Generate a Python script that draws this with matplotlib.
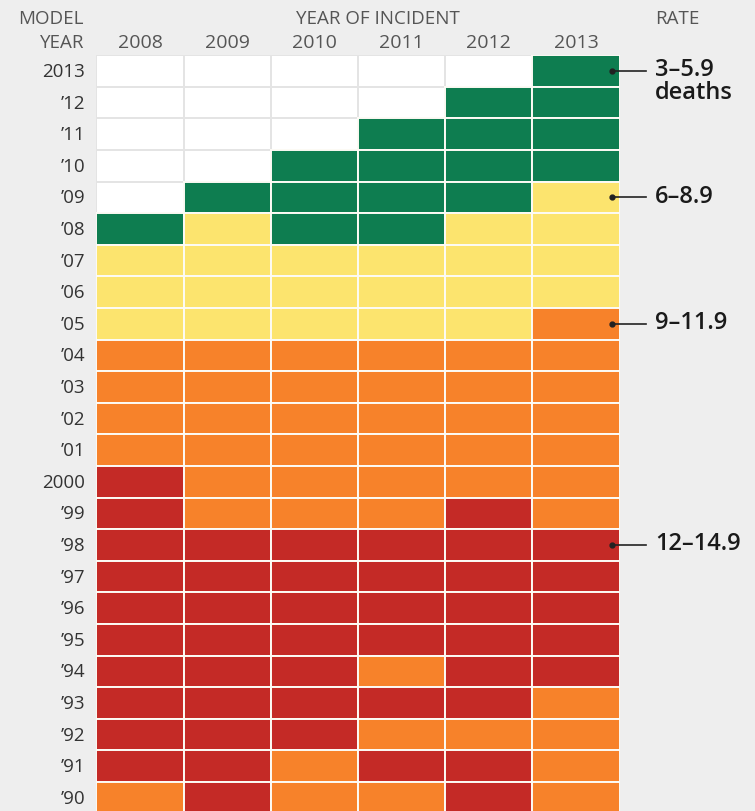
import matplotlib.pyplot as plt
from matplotlib.patches import Patch

# Rate category per cell: 0 = no data, 1 = 3-5.9, 2 = 6-8.9, 3 = 9-11.9, 4 = 12-14.9
model_years = ['2013', "\u201912", "\u201911", "\u201910", "\u201909", "\u201908", "\u201907",
               "\u201906", "\u201905", "\u201904", "\u201903", "\u201902", "\u201901", '2000',
               "\u201999", "\u201998", "\u201997", "\u201996", "\u201995", "\u201994", "\u201993",
               "\u201992", "\u201991", "\u201990"]
incident_years = ['2008', '2009', '2010', '2011', '2012', '2013']

rate_2008 = [0, 0, 0, 0, 0, 1, 2, 2, 2, 3, 3, 3, 3, 4, 4, 4, 4, 4, 4, 4, 4, 4, 4, 3]
rate_2009 = [0, 0, 0, 0, 1, 2, 2, 2, 2, 3, 3, 3, 3, 3, 3, 4, 4, 4, 4, 4, 4, 4, 4, 4]
rate_2010 = [0, 0, 0, 1, 1, 1, 2, 2, 2, 3, 3, 3, 3, 3, 3, 4, 4, 4, 4, 4, 4, 4, 3, 3]
rate_2011 = [0, 0, 1, 1, 1, 1, 2, 2, 2, 3, 3, 3, 3, 3, 3, 4, 4, 4, 4, 3, 4, 3, 4, 3]
rate_2012 = [0, 1, 1, 1, 1, 2, 2, 2, 2, 3, 3, 3, 3, 3, 4, 4, 4, 4, 4, 4, 4, 3, 4, 4]
rate_2013 = [1, 1, 1, 1, 2, 2, 2, 2, 3, 3, 3, 3, 3, 3, 3, 4, 4, 4, 4, 4, 3, 3, 3, 3]
columnas = [rate_2008, rate_2009, rate_2010, rate_2011, rate_2012, rate_2013]

rate_labels = ['3\u20135.9', '6\u20138.9', '9\u201311.9', '12\u201314.9']
label_rows = [0, 4, 8, 15]  # row whose last cell the leader points at

colores = ['#ffffff', '#0e7d50', '#fce46e', '#f7822a', '#c42a26']
fondo = '#eeeeee'
plt.rcParams['font.family'] = ['Open Sans', 'DejaVu Sans']

fig = plt.figure(figsize=(7.55, 8.12), dpi=100, facecolor=fondo)
# grid area in pixels: left 96.4, right 619.6, top 56.2, row pitch 31.6 (bottom row cut by figure edge)
W, H = 755.0, 812.0
left, right, top, pitch = 96.4, 619.6, 56.2, 31.6
ax = fig.add_axes([left / W, 0, (right - left) / W, (H - top) / H])
ax.set_xlim(-0.5, len(incident_years) - 0.5)
ax.set_ylim(-0.5 + (H - top) / pitch, -0.5)
ax.axis('off')

colw = (right - left) / len(incident_years)
def px_x(x):
    return (x - left) / colw - 0.5
def px_y(y):
    return (y - top) / pitch - 0.5

# white (empty) cells first so the coloured cells' white borders sit on top
for pasada in (0, 1):
    for j, col in enumerate(columnas):
        for i, v in enumerate(col):
            if (v == 0) != (pasada == 0):
                continue
            ax.bar(j, 1, bottom=i - 0.5, width=1, color=colores[v],
                   edgecolor='#e4e4e4' if v == 0 else '#fdfbf5', linewidth=1.4,
                   clip_on=True)

# row labels
for i, lab in enumerate(model_years):
    ax.text(px_x(85), i, lab, ha='right', va='center', fontsize=13.5, color='#333333')

# column labels and headers
for j, lab in enumerate(incident_years):
    ax.text(j, px_y(43), lab, ha='center', va='center', fontsize=14, color='#555555')
ax.text(px_x(84), px_y(19), 'MODEL', ha='right', va='center', fontsize=13.5, color='#555555')
ax.text(px_x(84), px_y(43), 'YEAR', ha='right', va='center', fontsize=13.5, color='#555555')
ax.text(px_x(378), px_y(19), 'YEAR OF INCIDENT', ha='center', va='center', fontsize=13.5, color='#555555')
ax.text(px_x(655), px_y(19), 'RATE', ha='left', va='center', fontsize=13.5, color='#555555')

# rate legend with leader lines
for lab, fila in zip(rate_labels, label_rows):
    ax.plot([px_x(612), px_x(646)], [fila, fila], color='#222222', lw=1.2, clip_on=False)
    ax.plot(px_x(612), fila, 'o', color='#222222', ms=3.5, clip_on=False)
    ax.text(px_x(655), fila - 0.05, lab, ha='left', va='center', fontsize=17,
            fontweight='semibold', color='#1a1a1a')
ax.text(px_x(655), label_rows[0] + 0.68, 'deaths', ha='left', va='center', fontsize=17,
        fontweight='semibold', color='#1a1a1a')

fig.savefig('out.png', dpi=100, facecolor=fondo)
